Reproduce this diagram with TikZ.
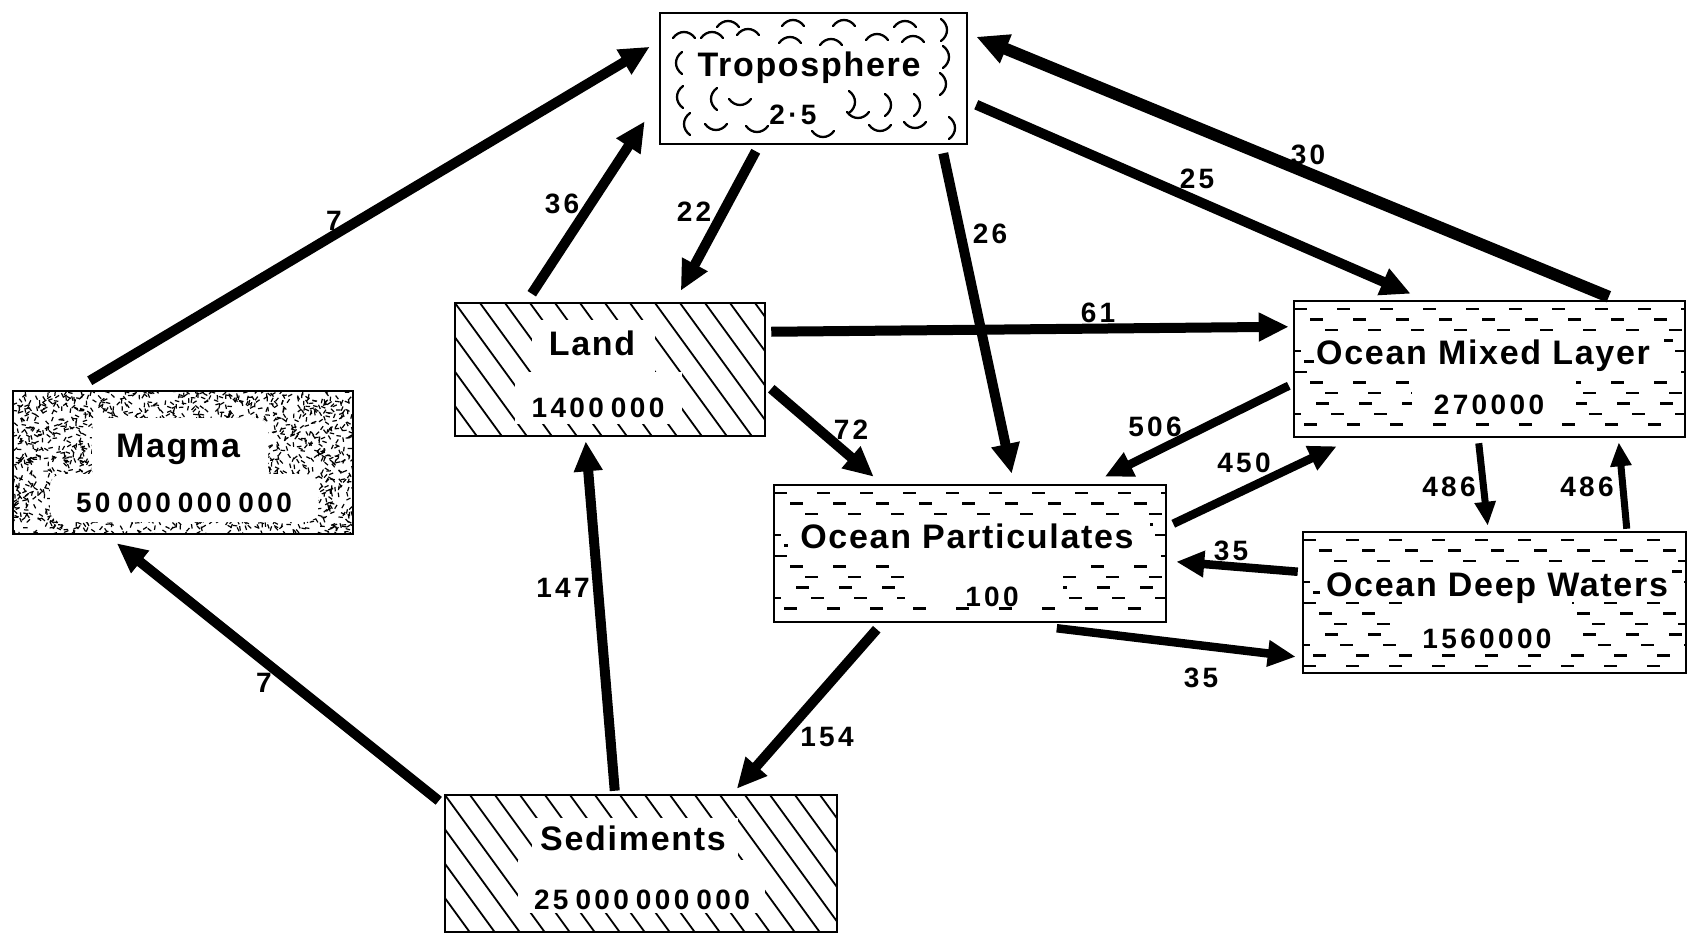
\documentclass[tikz,border=0pt]{standalone}
\usepackage{fontspec}
\setmainfont{Liberation Sans}
\newfontfamily\titlefont[LetterSpace=5]{Liberation Sans}
\newfontfamily\numfont[LetterSpace=12]{Liberation Sans}
\usetikzlibrary{arrows.meta,calc}
\tikzset{
  box/.style={draw, line width=2.5pt, rectangle, inner sep=0pt},
  ttl/.style={font=\titlefont\bfseries\fontsize{34}{40}\selectfont, inner sep=0pt, anchor=base},
  num/.style={font=\numfont\bfseries\fontsize{28}{32}\selectfont, inner sep=0pt, anchor=base},
  flow/.style={line width=10pt, -{Triangle[length=30pt,width=27pt]}},
  thickflow/.style={line width=12pt, -{Triangle[length=32pt,width=29pt]}},
  midflow/.style={line width=8.5pt, -{Triangle[length=28pt,width=25pt]}},
  thinflow/.style={line width=7pt, -{Triangle[length=24pt,width=20pt]}},
  hatchline/.style={line width=1.8pt},
  odash/.style={line width=2.2pt, dash pattern=on 13pt off 30pt},
  cloudarc/.style={line width=2.3pt, line cap=round},
  blank/.style={fill=white, draw=none},
}
\newcommand{\gap}{\hspace{7pt}}
\newcommand{\ArcTop}[2]{\draw[cloudarc] (#1-11,#2+4) .. controls (#1-5,#2-4) and (#1+5,#2-4) .. (#1+11,#2+4);}
\newcommand{\ArcBot}[2]{\draw[cloudarc] (#1-11,#2-4) .. controls (#1-5,#2+4) and (#1+5,#2+4) .. (#1+11,#2-4);}
\newcommand{\ArcL}[2]{\draw[cloudarc] (#1+4,#2-11) .. controls (#1-4,#2-5) and (#1-4,#2+5) .. (#1+4,#2+11);}
\newcommand{\ArcR}[2]{\draw[cloudarc] (#1-4,#2-11) .. controls (#1+4,#2-5) and (#1+4,#2+5) .. (#1-4,#2+11);}
\newcommand{\OceanRows}[5]{%
  \begin{scope}
    \clip (#1,#2) rectangle (#3,#4);
    \foreach \r in {0,...,#5}{
      \pgfmathsetmacro{\rowy}{#2+8+10.5*\r}
      \pgfmathsetmacro{\dph}{mod(\r,2)*21+mod(\r,3)*6}
      \draw[odash, dash phase=\dph pt] (#1,\rowy) -- (#3,\rowy);
    }
  \end{scope}}
\newcommand{\HatchBox}[4]{%
  \begin{scope}
    \clip (#1,#2) rectangle (#3,#4);
    \foreach \k in {-7,...,16}{
      \draw[hatchline] (#1+25*\k,#2) -- ++(104,143);
    }
  \end{scope}}
\begin{document}
\begin{tikzpicture}[x=1pt,y=-1pt]
\useasboundingbox (0,0) rectangle (1689,934);
\fill[white] (0,0) rectangle (1689,934);

% ---------- patterns ----------
% Troposphere clouds
\ArcTop{728}{23}\ArcTop{793}{22}\ArcTop{844}{22}\ArcTop{905}{23}
\ArcTop{684}{34}\ArcTop{712}{34}\ArcTop{748}{31}\ArcTop{790}{39}\ArcTop{831}{41}\ArcTop{877}{36}\ArcTop{913}{38}
\ArcL{678}{63}\ArcL{679}{97}\ArcL{686}{124}\ArcL{713}{99}
\ArcR{945}{30}\ArcR{947}{57}\ArcR{944}{84}\ArcR{953}{128}\ArcR{918}{105}\ArcR{853}{102}\ArcR{889}{105}
\ArcBot{716}{128}\ArcBot{740}{103}\ArcBot{757}{130}\ArcBot{823}{135}\ArcBot{858}{116}\ArcBot{880}{129}\ArcBot{915}{126}

% Magma stipple
\begin{scope}
  \clip (13,391) rectangle (353,534);
  \pgfmathsetseed{11}
  \foreach \i in {1,...,1900}{
    \pgfmathsetmacro{\sx}{12+342*rnd}
    \pgfmathsetmacro{\sy}{390+145*rnd}
    \pgfmathsetmacro{\sa}{180*rnd}
    \draw[line width=1.2pt] (\sx,\sy) -- ++(\sa:4.5);
  }
\end{scope}
\fill[blank, rounded corners=12pt] (92,418) rectangle (268,482);
\fill[blank, rounded corners=12pt] (50,474) rectangle (318,522);

% Land and Sediments hatching
\HatchBox{455}{303}{765}{436}
\fill[blank] (532,320) rectangle (655,375);
\fill[blank] (515,372) rectangle (682,424);
\HatchBox{445}{795}{837}{932}
\fill[blank] (532,818) rectangle (738,862);
\fill[blank] (518,860) rectangle (765,913);

% Ocean boxes
\OceanRows{1294}{301}{1685}{437}{11}
\fill[blank] (1314,335) rectangle (1664,374);
\fill[blank] (1412,374) rectangle (1576,421);
\OceanRows{774}{485}{1166}{622}{11}
\fill[blank] (788,519) rectangle (1150,559);
\fill[blank] (905,556) rectangle (1063,604);
\OceanRows{1303}{532}{1686}{673}{12}
\fill[blank] (1320,566) rectangle (1672,602);
\fill[blank] (1405,600) rectangle (1572,650);

% ---------- boxes ----------
\node[box, minimum width=307pt, minimum height=131pt] (trop) at (813.5,78.5) {};
\node[box, minimum width=340pt, minimum height=143pt] (magma) at (183,462.5) {};
\node[box, minimum width=310pt, minimum height=133pt] (land) at (610,369.5) {};
\node[box, minimum width=391pt, minimum height=136pt] (oml) at (1489.5,369) {};
\node[box, minimum width=392pt, minimum height=137pt] (op) at (970,553.5) {};
\node[box, minimum width=383pt, minimum height=141pt] (odw) at (1494.5,602.5) {};
\node[box, minimum width=392pt, minimum height=137pt] (sed) at (641,863.5) {};

% ---------- box texts ----------
\node[ttl] (tropT) at (809,77) {Troposphere};
\node[num] (tropN) at (793,124) {2·5};
\node[ttl] (magmaT) at (178,457) {Magma};
\node[num] (magmaN) at (184,512) {50\gap000\gap000\gap000};
\node[ttl] (landT) at (592,355) {Land};
\node[num] (landN) at (598,417) {1400\gap000};
\node[ttl] (omlT) at (1483,364) {Ocean Mixed Layer};
\node[num] (omlN) at (1489,414) {270000};
\node[ttl] (opT) at (967,548) {Ocean Particulates};
\node[num] (opN) at (992,606) {100};
\node[ttl] (odwT) at (1497,596) {Ocean Deep Waters};
\node[num] (odwN) at (1487,648) {1560000};
\node[ttl] (sedT) at (633,850) {Sediments};
\node[num] (sedN) at (642,909) {25\gap000\gap000\gap000};

% ---------- flows ----------
\draw[flow] ($(magma.north west)+(78,-9)$) -- ($(trop.north west)+(-9,35)$);
\draw[flow] ($(land.north west)+(78,-8)$) -- ($(trop.south west)+(-14,-24)$);
\draw[flow] ($(trop.south west)+(97,6)$) -- ($(land.north west)+(227,-11)$);
\draw[flow] ($(trop.south east)+(-25,8)$) -- ($(op.north west)+(239,-10)$);
\draw[flow] ($(trop.north east)+(8,93)$) -- ($(oml.north west)+(118,-6)$);
\draw[thickflow] ($(oml.north west)+(316,-3)$) -- ($(trop.north east)+(8,25)$);
\draw[flow] ($(land.north east)+(5,30)$) -- ($(oml.north west)+(-4,27)$);
\draw[flow] ($(land.north east)+(5,87)$) -- ($(op.north west)+(101,-7)$);
\draw[midflow] ($(oml.north west)+(-4,86)$) -- ($(op.north west)+(332,-7)$);
\draw[midflow] ($(op.north east)+(6,40)$) -- ($(oml.south west)+(44,8)$);
\draw[thinflow] ($(oml.south west)+(186,5)$) -- ($(odw.north west)+(186,-5)$);
\draw[thinflow] ($(odw.north west)+(325,-2)$) -- ($(oml.south west)+(326,4)$);
\draw[midflow] ($(odw.north west)+(-4,41)$) -- ($(op.north east)+(9,78)$);
\draw[midflow] ($(op.south west)+(284,5)$) -- ($(odw.north west)+(-6,126)$);
\draw[flow] ($(op.south west)+(104,6)$) -- ($(sed.north west)+(293,-5)$);
\draw[flow] ($(sed.north west)+(171,-3)$) -- ($(land.south west)+(132,4)$);
\draw[flow] ($(sed.north west)+(-5,7)$) -- ($(magma.south west)+(105,8)$);

% ---------- flow labels ----------
\node[num] (f7a) at (334,230) {7};
\node[num] (f36) at (562,213) {36};
\node[num] (f22) at (694,221) {22};
\node[num] (f26) at (990,243) {26};
\node[num] (f25) at (1197,188) {25};
\node[num] (f30) at (1308,164) {30};
\node[num] (f61) at (1098,322) {61};
\node[num] (f72) at (851,439) {72};
\node[num] (f506) at (1155,436) {506};
\node[num] (f450) at (1244,472) {450};
\node[num] (f486a) at (1449,496) {486};
\node[num] (f486b) at (1587,496) {486};
\node[num] (f35a) at (1231,560) {35};
\node[num] (f35b) at (1201,687) {35};
\node[num] (f154) at (827,746) {154};
\node[num] (f147) at (563,597) {147};
\node[num] (f7b) at (264,692) {7};
\end{tikzpicture}
\end{document}
